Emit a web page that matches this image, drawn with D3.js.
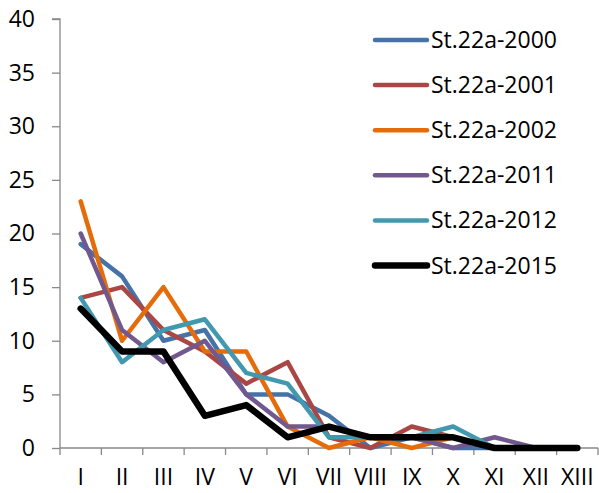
<!DOCTYPE html>
<html><head><meta charset="utf-8">
<script src="https://cdn.jsdelivr.net/npm/d3@7"></script>
<style>body{margin:0;background:#fff}svg{display:block}</style>
</head><body>
<svg id="c" width="599" height="493"></svg>
<script>
const categories = ["I","II","III","IV","V","VI","VII","VIII","IX","X","XI","XII","XIII"];
const seriesNames = ["St.22a-2000","St.22a-2001","St.22a-2002","St.22a-2011","St.22a-2012","St.22a-2015"];
const s2000 = [19,16,10,11,5,5,3,0,1,0,0,0,0];
const s2001 = [14,15,11,9,6,8,1,0,2,1,0,0,0];
const s2002 = [23,10,15,9,9,2,0,1,0,1,0,0,0];
const s2011 = [20,11,8,10,5,2,2,1,1,0,1,0,0];
const s2012 = [14,8,11,12,7,6,1,1,1,2,0,0,0];
const s2015 = [13,9,9,3,4,1,2,1,1,1,0,0,0];
const yTicks = [0,5,10,15,20,25,30,35,40];
const colors = ["#4572A7","#AA4643","#E46C0A","#71588F","#4198AF","#000000"];
const widths = [4.5,4.5,4.5,4.5,4.5,6.5];
const allSeries = [s2000,s2001,s2002,s2011,s2012,s2015];

(function(){
const svg = d3.select("#c");
const L = 60, R = 598, T = 19, B = 448;
const x = d3.scaleBand().domain(categories).range([L, R]).padding(0);
const y = d3.scaleLinear().domain([0,40]).range([B, T]);
const font = "Open Sans, sans-serif";
const fs = 23;

// y axis
const ya = svg.append("g").attr("transform", `translate(${L},0)`)
  .call(d3.axisLeft(y).tickValues(yTicks).tickSize(8).tickPadding(17));
ya.select(".domain").attr("stroke","#898989").attr("stroke-width",1.3).attr("d", `M-8,${T}H0V${B}`);
ya.selectAll(".tick line").attr("stroke","#898989").attr("stroke-width",1.3);
ya.selectAll("text").attr("font-family",font).attr("font-size",fs).attr("fill","#000");

// x axis
const xa = svg.append("g").attr("transform", `translate(0,${B})`)
  .call(d3.axisBottom(x).tickSize(0).tickPadding(21));
xa.select(".domain").attr("stroke","#898989").attr("stroke-width",1.3).attr("d", `M${L},0H${R}`);
xa.selectAll("text").attr("font-family",font).attr("font-size",fs).attr("fill","#000");
const bounds = categories.map(c => x(c)).concat([R]);
xa.selectAll(".bt").data(bounds).enter().append("line")
  .attr("x1", d=>d).attr("x2", d=>d).attr("y1",0).attr("y2",7)
  .attr("stroke","#898989").attr("stroke-width",1.3);

// lines
const line = d3.line().x((d,i)=>x(categories[i]) + x.bandwidth()/2).y(d=>y(d));
allSeries.forEach((s,k)=>{
  svg.append("path").datum(s).attr("d", line).attr("fill","none")
    .attr("stroke", colors[k]).attr("stroke-width", widths[k])
    .attr("stroke-linejoin","round").attr("stroke-linecap","round");
});

// legend
const lg = svg.append("g");
seriesNames.forEach((n,k)=>{
  const yy = 40 + k*45.1;
  lg.append("line").attr("x1",375).attr("x2",427).attr("y1",yy).attr("y2",yy)
    .attr("stroke",colors[k]).attr("stroke-width",widths[k]).attr("stroke-linecap","round");
  lg.append("text").attr("x",431).attr("y",yy).attr("dy","0.35em")
    .attr("font-family",font).attr("font-size",fs).attr("fill","#000").text(n);
});
})();
</script>
</body></html>
